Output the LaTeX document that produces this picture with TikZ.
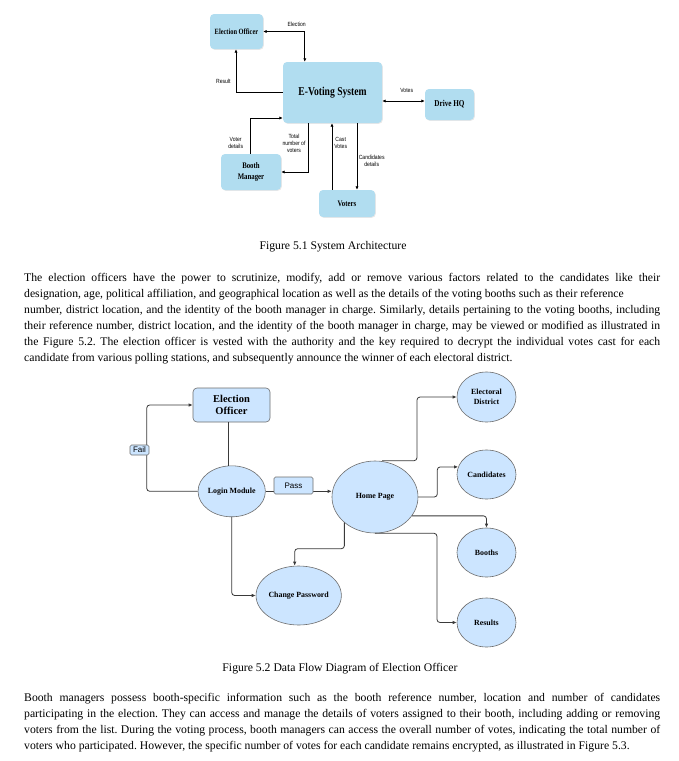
\documentclass[tikz,border=0pt]{standalone}
\usepackage{fontspec}
\setmainfont{Liberation Serif}
\newfontfamily\topserif[FakeStretch=0.8]{Liberation Serif}
\newfontfamily\topsans[FakeStretch=0.85]{Liberation Sans}
\newfontfamily\arialf{Liberation Sans}
\usetikzlibrary{arrows.meta,shapes.geometric,calc,shadows}
\definecolor{topblue}{HTML}{B1DDF0}
\definecolor{lowblue}{HTML}{CCE5FF}
\definecolor{lowedge}{HTML}{6E6E6E}
\definecolor{lowline}{HTML}{3A3A3A}
\newcommand{\jline}[1]{\makebox[636pt][s]{#1}}
\frenchspacing
\begin{document}
\begin{tikzpicture}[x=1pt,y=-1pt,
  topbox/.style={rectangle, rounded corners=4pt, fill=topblue, draw=none,
    drop shadow={opacity=0.18,shadow xshift=0.8pt,shadow yshift=-0.8pt},
    inner sep=0pt, align=center, font=\topserif\bfseries\fontsize{8.5}{10.5}\selectfont},
  toplbl/.style={inner sep=0pt, align=center, font=\topsans\fontsize{6}{7.3}\selectfont},
  topline/.style={line width=0.8pt, draw=black},
  toptip/.style={-{Latex[length=3.5pt,width=3.2pt]}},
  toptips/.style={{Latex[length=3.5pt,width=3.2pt]}-{Latex[length=3.5pt,width=3.2pt]}},
  lowell/.style={ellipse, fill=lowblue, draw=lowedge, line width=0.6pt, inner sep=0pt,
    align=center, font=\bfseries\fontsize{7.9}{9.5}\selectfont},
  lowtag/.style={rectangle, rounded corners=1.5pt, fill=lowblue, draw=lowedge, line width=0.6pt,
    inner sep=0pt, font=\arialf\fontsize{8}{9}\selectfont},
  lowline/.style={line width=0.8pt, draw=lowline, rounded corners=3pt},
  lowtip/.style={-{Latex[length=4pt,width=3.5pt]}},
  txt/.style={inner sep=0pt, font=\fontsize{11.7}{14}\selectfont}
]
\useasboundingbox[fill=white] (0,0) rectangle (679,761);

% ---------------- Figure 5.1 ----------------
\node[topbox, minimum width=53pt, minimum height=35pt, font=\topserif\bfseries\fontsize{8}{10}\selectfont] (eo) at (236.5,31.5) {Election Officer};
\node[topbox, minimum width=99pt, minimum height=61pt, font=\topserif\bfseries\fontsize{12}{14}\selectfont] (evs) at (332.5,92.5) {E-Voting System};
\node[topbox, minimum width=49pt, minimum height=31pt, font=\topserif\bfseries\fontsize{9}{11}\selectfont] (dhq) at (449.5,104.5) {Drive HQ};
\node[topbox, minimum width=60pt, minimum height=36pt] (bm) at (251,172) {Booth\\[1pt]Manager};
\node[topbox, minimum width=56pt, minimum height=27pt] (vot) at (347,203.5) {Voters};

\draw[topline, toptips] (eo.east) -| ([xshift=22pt]evs.north west);
\draw[topline, toptip] (evs.west) -| ([xshift=-0.5pt]eo.south);
\draw[topline, toptips] ([yshift=3.5pt]evs.east |- dhq.west) -- ([yshift=3.5pt]dhq.west);
\draw[topline, toptip] ([xshift=-1pt]bm.north) |- ([yshift=-25.5pt]evs.west);
\draw[topline, toptip] ([xshift=-24.5pt]evs.south) |- (bm.east);
\draw[topline, toptip] ([xshift=-15pt]vot.north) -- ([xshift=-15pt]vot.north |- evs.south);
\draw[topline, toptip] ([xshift=24.5pt]evs.south) -- ([xshift=24.5pt]evs.south |- vot.north);

\node[toplbl] (lelection) at (296.7,24.7) {Election};
\node[toplbl] (lresult) at (223.3,81.7) {Result};
\node[toplbl] (lvotes) at (406.7,90.7) {Votes};
\node[toplbl] (lvoter) at (235.7,143) {Voter\\details};
\node[toplbl] (ltotal) at (294,143.3) {Total\\number of\\voters};
\node[toplbl] (lcast) at (340.7,143) {Cast\\Votes};
\node[toplbl] (lcand) at (371.7,160.7) {Candidates\\details};

\node[txt, anchor=base] (cap1) at (333,249) {Figure 5.1 System Architecture};

% ---------------- paragraph 1 ----------------
\node[txt, anchor=base west] (p1) at (24,281) {\jline{The election officers have the power to scrutinize, modify, add or remove various factors related to the candidates like their}};
\node[txt, anchor=base west] (p2) at (24,297) {designation, age, political affiliation, and geographical location as well as the details of the voting booths such as their reference};
\node[txt, anchor=base west] (p3) at (24,313) {\jline{number, district location, and the identity of the booth manager in charge. Similarly, details pertaining to the voting booths, including}};
\node[txt, anchor=base west] (p4) at (24,329) {\jline{their reference number, district location, and the identity of the booth manager in charge, may be viewed or modified as illustrated in}};
\node[txt, anchor=base west] (p5) at (24,345) {\jline{the Figure 5.2. The election officer is vested with the authority and the key required to decrypt the individual votes cast for each}};
\node[txt, anchor=base west] (p6) at (24,361) {candidate from various polling stations, and subsequently announce the winner of each electoral district.};

% ---------------- Figure 5.2 ----------------
\node[rectangle, rounded corners=4pt, fill=lowblue, draw=lowedge, line width=0.6pt, minimum width=77pt, minimum height=34pt, inner sep=0pt, align=center, font=\bfseries\fontsize{10.5}{12}\selectfont] (eo2) at (231.5,405) {Election\\Officer};
\node[lowell, minimum width=60pt, minimum height=51pt] (lm) at (231.7,491.3) {Login Module};
\node[lowell, minimum width=86pt, minimum height=72pt] (hp) at (375,497) {Home Page};
\node[lowell, minimum width=59pt, minimum height=50pt] (ed) at (486.5,397) {Electoral\\District};
\node[lowell, minimum width=59pt, minimum height=49pt] (cand) at (486.5,474.5) {Candidates};
\node[lowell, minimum width=59pt, minimum height=49pt] (booths) at (486.5,552.5) {Booths};
\node[lowell, minimum width=59pt, minimum height=49pt] (res) at (486.5,622.5) {Results};
\node[lowell, minimum width=69pt, minimum height=59pt] (cp) at (298.7,595.5) {Change Password};

\draw[lowline] ([xshift=-3.5pt]eo2.south) -- ([xshift=-3.5pt]eo2.south |- lm.north);
\draw[lowline, lowtip] (lm.west) -- ++(-51,0) |- (eo2.west);
\draw[lowline, lowtip] (lm.east) -- (lm.east -| hp.west);
\draw[lowline, lowtip] (lm.south) |- (cp.west);
\draw[lowline, lowtip] ([xshift=7pt]hp.north) -- ++(35,0) |- (ed.west);
\draw[lowline, lowtip] (hp.east) -- ++(19,0) |- (cand.165);
\draw[lowline, lowtip] (hp.-27) -| (booths.north);
\draw[lowline, lowtip] (hp.south) -- ++(62,0) |- (res.west);
\draw[lowline, lowtip] (hp.220) |- ([xshift=-4pt, yshift=17pt]cp.north) -- ([xshift=-4pt]cp.north);

\node[lowtag, minimum width=19pt, minimum height=10pt] (fail) at (139.5,450) {Fail};
\node[lowtag, minimum width=39pt, minimum height=17pt] (pass) at (293.5,485.5) {Pass};

\node[txt, anchor=base] (cap2) at (340,671) {Figure 5.2 Data Flow Diagram of Election Officer};

% ---------------- paragraph 2 ----------------
\node[txt, anchor=base west] (q1) at (24,701) {\jline{Booth managers possess booth-specific information such as the booth reference number, location and number of candidates}};
\node[txt, anchor=base west] (q2) at (24,717) {\jline{participating in the election. They can access and manage the details of voters assigned to their booth, including adding or removing}};
\node[txt, anchor=base west] (q3) at (24,733) {\jline{voters from the list. During the voting process, booth managers can access the overall number of votes, indicating the total number of}};
\node[txt, anchor=base west] (q4) at (24,749) {voters who participated. However, the specific number of votes for each candidate remains encrypted, as illustrated in Figure 5.3.};
\end{tikzpicture}
\end{document}
